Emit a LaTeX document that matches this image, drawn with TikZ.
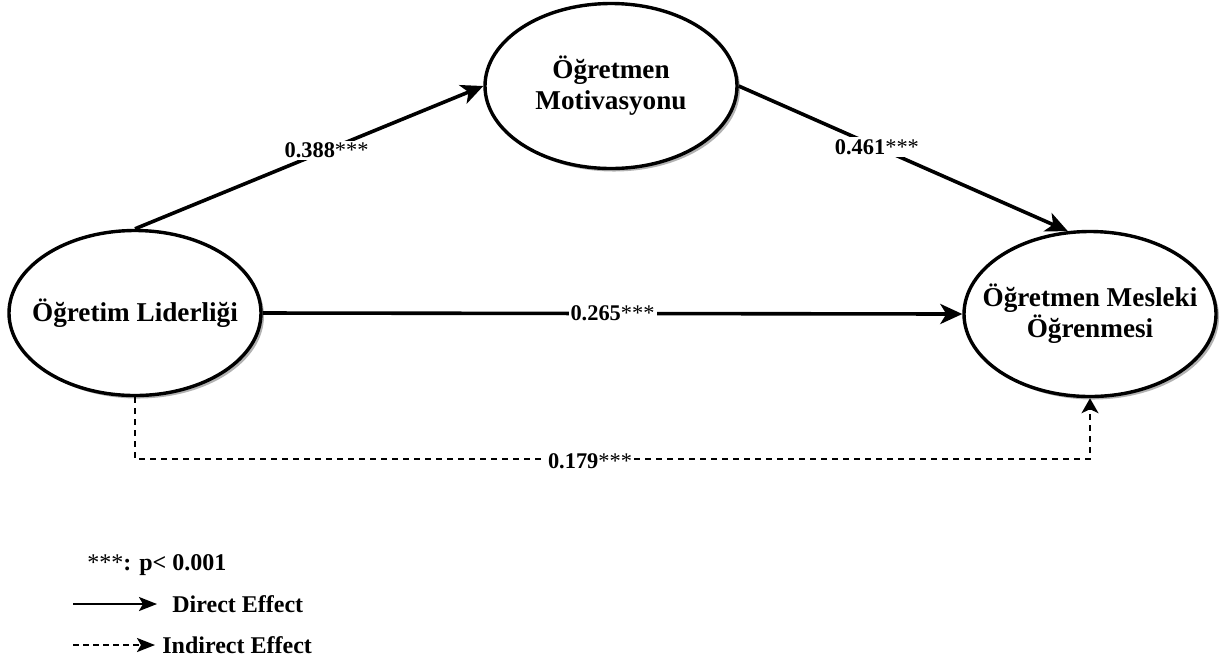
\documentclass[tikz,border=0pt]{standalone}
\usepackage{fontspec}
\setmainfont{Liberation Serif}
\usetikzlibrary{shapes.geometric,arrows.meta,shadows}
\newcommand\sigstars{\textmd{***}}
\begin{document}
\begin{tikzpicture}[x=0.5pt,y=-0.5pt,
  latent/.style={ellipse, draw, line width=1.7pt, fill=white,
    minimum width=126pt, minimum height=82.5pt, inner sep=0pt,
    drop shadow={shadow xshift=1.5pt, shadow yshift=-1.5pt, fill=black!30, opacity=1}},
  latenttext/.style={align=center, inner sep=0pt,
    font=\bfseries\fontsize{13.6}{15.5}\selectfont},
  effect/.style={line width=1.8pt, -{Stealth[length=11pt,width=10pt,inset=3pt]}},
  indirect/.style={line width=1pt, dash pattern=on 3pt off 2.5pt, -{Stealth[length=7.5pt,width=8.5pt,inset=2pt]}},
  coef/.style={fill=white, inner sep=1pt, font=\bfseries\fontsize{11.2}{13}\selectfont},
  legtext/.style={anchor=west, inner sep=0pt, font=\bfseries\fontsize{12}{14}\selectfont},
  legarrow/.style={line width=1.1pt, -{Stealth[length=9pt,width=7pt,inset=2pt]}}
]
\useasboundingbox (0,0) rectangle (1224,661);
\node[latent] (L) at (135,313) {};
\node[latenttext] (Lt) at (L.center) {Öğretim Liderliği};
\node[latent] (T) at (611,86) {};
\node[latenttext] (Tt) at (T.center) {Öğretmen\\Motivasyonu};
\node[latent] (R) at (1090,314) {};
\node[latenttext] (Rt) at (R.center) {Öğretmen Mesleki\\Öğrenmesi};

\draw[effect] (L.north) -- node[coef, pos=0.55] {0.388\sigstars} (T.west);
\draw[effect] (T.east) -- node[coef, pos=0.42] {0.461\sigstars} (R.105);
\draw[effect] (L.east) -- node[coef] {0.265\sigstars} (R.west);
\coordinate (dy) at (0,459);
\draw[indirect] (L.south) -- (L.south |- dy) -| (R.south);
\node[coef] (c4) at (590,461) {0.179\sigstars};

\node[legtext] (p) at (87,565) {\sigstars: p< 0.001};
\coordinate (d1) at (73,604);
\coordinate (d2) at (157,604);
\draw[legarrow] (d1) -- (d2);
\node[legtext] (dt) at (172,604) {Direct Effect};
\coordinate (i1) at (73,645);
\coordinate (i2) at (155,645);
\draw[legarrow, dash pattern=on 3pt off 2pt] (i1) -- (i2);
\node[legtext] (it) at (162,645) {Indirect Effect};
\end{tikzpicture}
\end{document}
